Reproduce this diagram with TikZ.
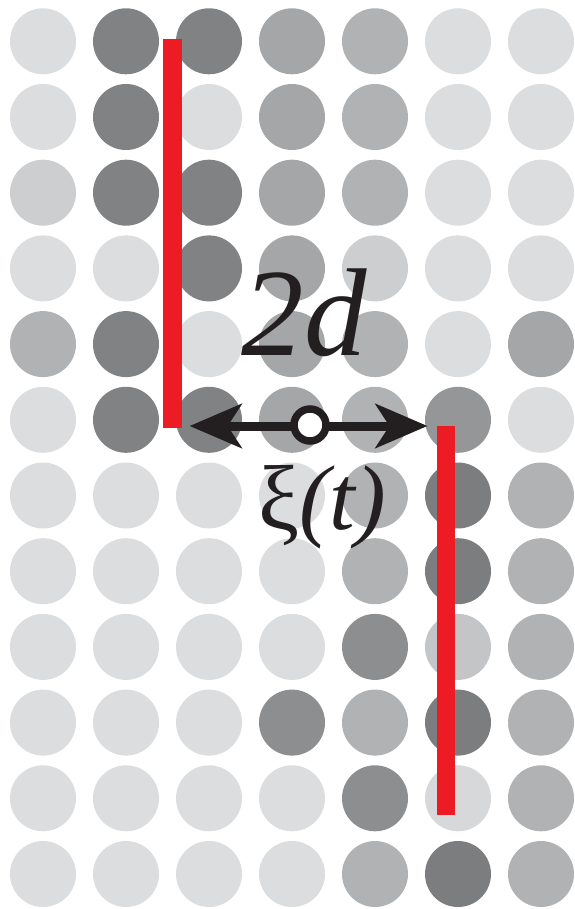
\documentclass[tikz,border=0pt]{standalone}
\usepackage{fontspec}
\setmainfont{Liberation Serif}
\usetikzlibrary{arrows.meta}

\definecolor{gA}{HTML}{DCDDDF}
\definecolor{gB}{HTML}{CDCED0}
\definecolor{gC}{HTML}{B1B2B4}
\definecolor{gD}{HTML}{A5A6A8}
\definecolor{gE}{HTML}{8D8E90}
\definecolor{gF}{HTML}{818284}
\definecolor{gG}{HTML}{959698}
\definecolor{gH}{HTML}{7C7D7F}
\definecolor{gI}{HTML}{C4C5C7}
\definecolor{gJ}{HTML}{D7D8DA}
\definecolor{wallred}{HTML}{ED1C24}
\definecolor{ink}{HTML}{231F20}

\begin{document}
\begin{tikzpicture}[
  x=1pt, y=-1pt,
  >={Stealth[length=52pt,width=44pt,inset=14pt]},
  wall/.style={draw=wallred, line width=18.6pt},
  jump/.style={<->, draw=ink, line width=9pt},
  walker/.style={circle, draw=ink, fill=white, line width=7.5pt,
    minimum size=32pt, inner sep=0pt},
  label/.style={text=ink, inner sep=0pt}
]
  \useasboundingbox (0,0) rectangle (574,909);

  % lattice of sites, one row per line
  \foreach \row [count=\j] in {
    {A,F,F,D,C,A,A},
    {A,F,A,D,C,A,A},
    {B,F,F,D,C,A,A},
    {A,A,F,D,B,A,A},
    {C,F,A,D,C,A,D},
    {A,F,F,D,C,G,A},
    {A,A,A,A,C,H,C},
    {A,A,A,A,C,H,C},
    {A,A,A,A,E,I,C},
    {A,A,A,E,C,H,C},
    {A,A,A,A,E,J,C},
    {A,A,A,A,C,H,C}} {
    \foreach \g [count=\i] in \row
      \fill[g\g] ({43+83*(\i-1)},{41.3+75.7*(\j-1)}) circle (33pt);
  }

  % the two walls
  \coordinate (Ltop) at (172.6,39.3);
  \coordinate (Lbot) at (172.6,427.7);
  \coordinate (Rtop) at (446,426);
  \coordinate (Rbot) at (446,815);
  \draw[wall] (Ltop) -- (Lbot);
  \draw[wall] (Rtop) -- (Rbot);

  % gap between them
  \coordinate (tipL) at (189.6,426);
  \coordinate (tipR) at (427.5,426);
  \draw[jump] (tipL) -- (tipR);
  \node[walker] (xi) at (310,425) {};

  \node[label, anchor=base, font=\fontsize{125}{125}\selectfont\itshape]
    (gap) at (304,355) {2d};
  \node[label, anchor=base west, font=\fontsize{92}{92}\selectfont]
    (noise) at (258,529) {ξ\textit{(t)}};
\end{tikzpicture}
\end{document}
